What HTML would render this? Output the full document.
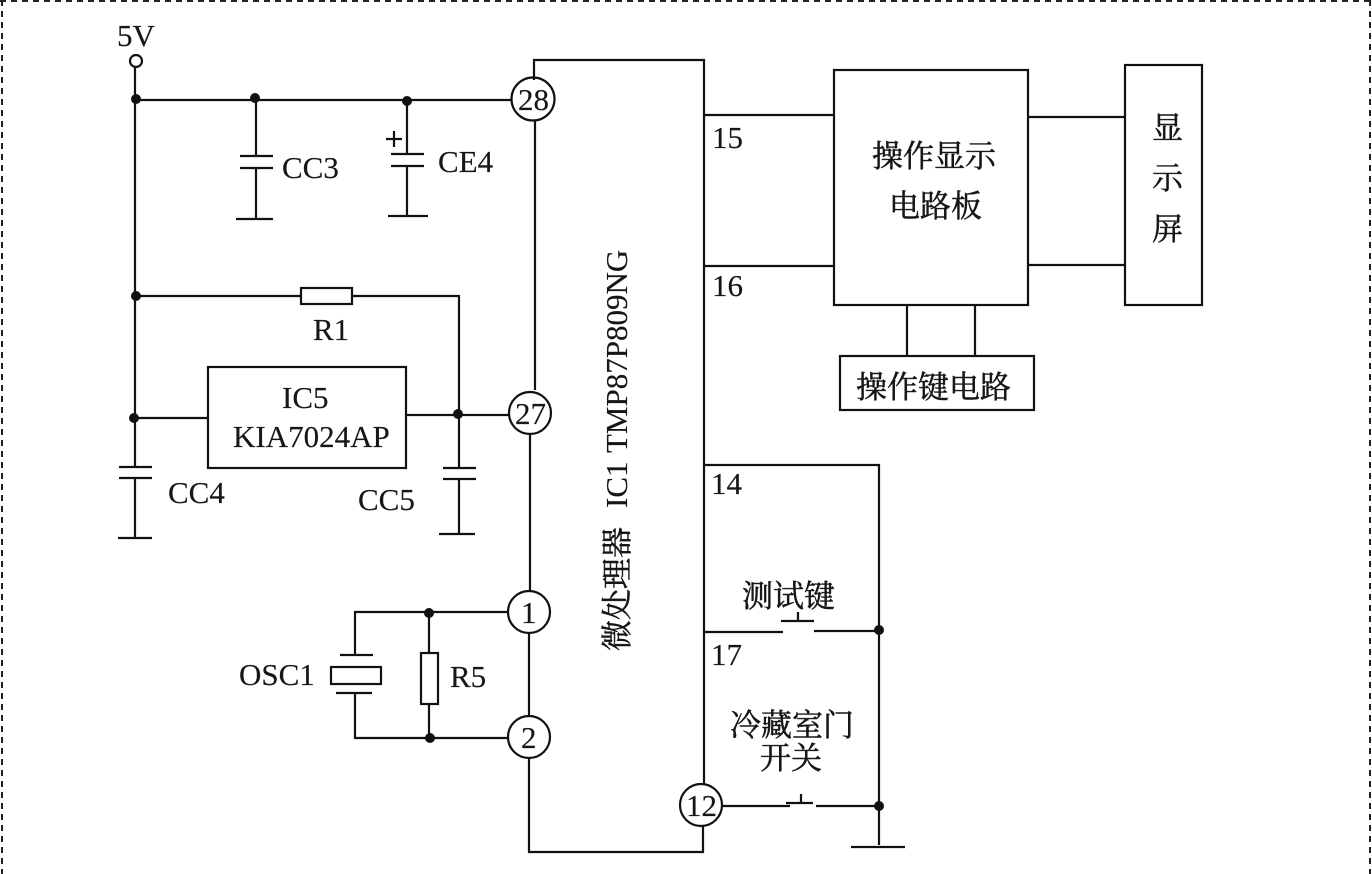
<!DOCTYPE html>
<html><head><meta charset="utf-8"><style>
html,body{margin:0;padding:0;background:#fff}
svg{display:block}
text{font-family:"Liberation Serif","Noto Serif CJK SC",serif;font-size:31px;fill:#161616;stroke:#161616;stroke-width:.15}
.c{font-family:"Noto Serif CJK SC","Liberation Serif",serif;font-size:31px;stroke-width:.5}
</style></head><body>
<svg width="1372" height="874" viewBox="0 0 1372 874" xmlns="http://www.w3.org/2000/svg">
<rect width="1372" height="874" fill="#fff"/>
<g fill="none" stroke="#222" stroke-width="2" stroke-dasharray="6 5">
<path d="M0 1H1372"/><path d="M2 0V874"/><path d="M1370 0V874"/>
</g>
<g fill="none" stroke="#111" stroke-width="2.2">
<!-- 5V rail -->
<circle cx="136" cy="61" r="6"/>
<path d="M135 67V467M135 478V538"/>
<path d="M135 100H512"/>
<!-- CC3 -->
<path d="M256 99V156M240 156H273M240 168H273M256 168V219M236 219H273"/>
<!-- CE4 -->
<path d="M407 100V154M391 154H424M391 166H424M407 166V216M388 216H428"/>
<path d="M386 139H402M394 131V147"/>
<!-- R1 -->
<path d="M136 296H301M352 296H459V468M459 479V534"/>
<rect x="301" y="288" width="51" height="16"/>
<!-- IC5 -->
<rect x="208" y="367" width="198" height="101"/>
<path d="M134 418H208M406 415H509"/>
<!-- CC4 -->
<path d="M119 467H152M119 478H152M118 538H152"/>
<!-- CC5 -->
<path d="M443 468H476M443 479H476M439 534H475"/>
<!-- MCU -->
<path d="M534 80V60H704V785"/>
<path d="M535 120V390"/>
<path d="M530 434V591"/>
<path d="M529 633V716"/>
<path d="M529 758V852H703V826"/>
<!-- right pins -->
<path d="M704 115H833M704 266H833"/>
<rect x="834" y="70" width="194" height="235"/>
<rect x="1125" y="65" width="77" height="240"/>
<path d="M1029 117H1125M1029 265H1125"/>
<path d="M907 305V356M975 305V356"/>
<rect x="840" y="356" width="194" height="54"/>
<!-- osc -->
<path d="M508 612H355V655M355 693V738H508"/>
<rect x="331" y="667" width="50" height="17"/>
<path d="M340 655H373M336 693H372"/>
<path d="M429 612V653M429 704V738"/>
<rect x="421" y="653" width="17" height="51"/>
<!-- switches -->
<path d="M704 465H879V845"/>
<path d="M704 632H783M814 631H879"/>
<path d="M781 621H814M798 612V621"/>
<path d="M723 806H790M816 806H879"/>
<path d="M786 803H813M801 794V803"/>
<path d="M851 847H905"/>
<!-- circles -->
<circle cx="533" cy="99" r="21.5"/>
<circle cx="530" cy="413" r="21"/>
<circle cx="529" cy="612" r="21"/>
<circle cx="529" cy="737" r="21"/>
<circle cx="701" cy="805" r="21"/>
</g>
<g fill="#111">
<circle cx="136" cy="99" r="5"/><circle cx="255" cy="98" r="5"/><circle cx="407" cy="101" r="5"/>
<circle cx="136" cy="296" r="5"/><circle cx="134" cy="418" r="5"/><circle cx="458" cy="414" r="5"/>
<circle cx="429" cy="613" r="5"/><circle cx="430" cy="738" r="5"/>
<circle cx="879" cy="630" r="5"/><circle cx="879" cy="806" r="5"/>
</g>
<text x="117" y="46" font-size="29">5V</text>
<text x="282" y="178">CC3</text>
<text x="438" y="172">CE4</text>
<text x="313" y="340">R1</text>
<text x="282" y="408">IC5</text>
<text x="233" y="447">KIA7024AP</text>
<text x="168" y="503">CC4</text>
<text x="358" y="510">CC5</text>
<text x="239" y="685">OSC1</text>
<text x="450" y="687">R5</text>
<text x="712" y="148">15</text>
<text x="712" y="296">16</text>
<text x="711" y="494">14</text>
<text x="711" y="665">17</text>
<text x="518" y="110">28</text>
<text x="515" y="424">27</text>
<text x="521" y="623">1</text>
<text x="521" y="748">2</text>
<text x="686" y="816">12</text>
<text class="c" x="872" y="167">操作显示</text>
<text class="c" x="889" y="217">电路板</text>
<text class="c" x="1152" y="139">显</text>
<text class="c" x="1152" y="189">示</text>
<text class="c" x="1152" y="240">屏</text>
<text class="c" x="856" y="398">操作键电路</text>
<text class="c" x="742" y="607">测试键</text>
<text class="c" x="730" y="736">冷藏室门</text>
<text class="c" x="760" y="769">开关</text>
<text class="c" transform="translate(628 651) rotate(-90)">微处理器</text>
<text transform="translate(627 508) rotate(-90)">IC1</text>
<text transform="translate(627 453) rotate(-90)">TMP87P809NG</text>
</svg>
</body></html>
